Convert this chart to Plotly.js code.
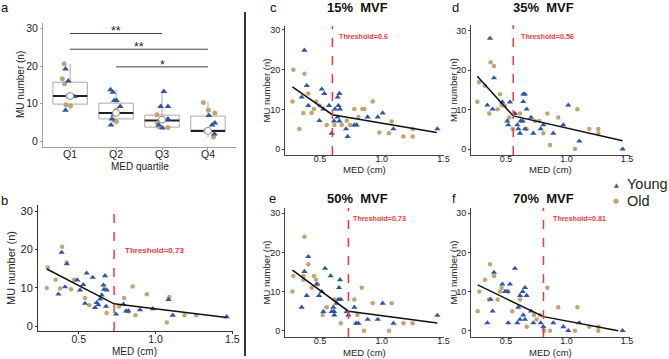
<!DOCTYPE html>
<html><head><meta charset="utf-8">
<script src="https://cdn.plot.ly/plotly-3.0.1.min.js"></script>
<style>html,body{margin:0;padding:0;background:#fff}#chart{width:669px;height:359px}</style>
</head><body><div id="chart"></div>
<script>
// ---------- DATA ----------
// Panel a: MU number by MED quartile (precomputed box stats)
const quartiles = ['Q1','Q2','Q3','Q4'];
const boxLower  = [8.3, 4.3, 3.2, 1.06];
const boxQ1     = [9.85, 5.9, 3.7, 2.66];
const boxMedian = [12.0, 7.45, 5.5, 2.66];
const boxQ3     = [15.7, 10.1, 6.9, 6.65];
const boxUpper  = [20.6, 13.7, 13.2, 10.6];
const boxMean   = [12.0, 7.5, 5.7, 2.7];
// jittered points (quartile index, jitter offset, MU number)
const aYoungQ   = [0,0,0,0, 1,1,1,1,1,1,1,1, 2,2,2,2,2,2,2, 3,3,3,3];
const aYoungJit = [-0.10,-0.04,0.09,-0.10, -0.12,-0.07,-0.04,0.01,0.09,-0.05,-0.09,-0.11, 0.04,-0.03,0.13,-0.03,0.13,-0.07,0.01, 0.02,0.15,0.09,0.14];
const aYoungMU  = [19.2,16.0,11.9,8.2, 13.7,13.0,10.8,10.8,9.2,7.0,5.9,4.3, 13.2,9.2,9.2,5.9,5.9,4.3,3.5, 6.8,4.8,4.3,1.9];
const aOldQ     = [0,0,0,0,0,0, 1,1,1, 2,2,2,2, 3,3,3,3,3];
const aOldJit   = [-0.13,-0.17,-0.12,-0.05,-0.09,0.01, 0.01,-0.04,0.01, -0.11,-0.10,0.13,-0.07, -0.10,0.01,0.15,-0.05,0.12];
const aOldMU    = [20.6,16.6,15.3,12.0,9.7,9.4, 8.3,5.5,5.2, 7.0,4.8,3.6,3.9, 10.3,8.3,7.5,2.75,1.06];
// significance brackets: [from, to, height, label]
const sigFrom  = [0, 0, 1];
const sigTo    = [2, 3, 3];
const sigY     = [28.7, 24.5, 19.8];
const sigLabel = ['**', '**', '*'];

// Panel b (all forces)
const bYoungX = [0.389,0.422,0.368,0.411,0.491,0.509,0.530,0.541,0.552,0.591,0.606,0.617,0.628,0.639,0.650,0.661,0.671,0.665,0.682,0.678,0.743,0.791,0.808,0.823,0.899,0.982,1.084,1.112,1.463];
const bYoungY = [19.2,16.2,8.3,10.2,12.0,9.4,10.8,5.9,13.8,12.7,4.8,6.1,5.5,7.0,8.1,10.7,13.1,9.6,9.4,5.1,3.1,5.7,3.9,3.9,4.2,4.5,6.9,2.8,2.4];
const bOldX = [0.292,0.298,0.350,0.379,0.392,0.422,0.450,0.470,0.541,0.569,0.682,0.762,0.795,0.823,0.851,0.869,0.943,1.090,1.073,1.188,1.264];
const bOldY = [9.9,15.3,12.1,9.8,20.7,16.6,9.6,12.1,7.3,5.4,3.4,5.1,7.3,3.8,10.3,2.8,8.3,7.6,0.9,2.8,2.8];
const bFitX = [0.292, 0.73, 1.463];
const bFitY = [14.9, 5.8, 2.2];
const bThreshold = 0.73;

// Panel c (15% MVF)
const cYoungX = [0.373,0.351,0.392,0.405,0.495,0.514,0.535,0.527,0.573,0.595,0.614,0.622,0.641,0.643,0.657,0.649,0.662,0.657,0.711,0.724,0.778,0.797,0.886,0.968,1.008,1.095,1.451];
const cYoungY = [24.9,13.1,16.0,11.0,7.2,15.1,14.0,10.1,11.0,4.0,7.1,10.1,8.1,13.1,14.0,11.0,10.1,7.1,5.1,3.2,6.1,6.1,8.1,8.1,9.1,5.1,5.1];
const cOldX = [0.276,0.284,0.332,0.365,0.373,0.405,0.432,0.451,0.468,0.495,0.554,0.616,0.676,0.716,0.743,0.778,0.811,0.843,0.859,0.927,0.981,1.081,1.059,1.176,1.251,1.251];
const cOldY = [12.0,20.0,5.1,9.1,19.0,14.0,9.1,10.1,12.0,11.0,6.1,6.1,6.1,7.2,6.1,10.1,8.1,10.1,10.1,12.0,4.2,7.0,4.0,3.2,3.2,5.1];
const cFitX = [0.276, 0.6, 1.446];
const cFitY = [15.7, 8.7, 4.2];
const cThreshold = 0.6;

// Panel d (35% MVF)
const dYoungX = [0.368,0.346,0.390,0.401,0.470,0.511,0.519,0.533,0.574,0.594,0.602,0.616,0.621,0.638,0.643,0.657,0.643,0.657,0.671,0.707,0.726,0.787,0.809,0.891,0.974,1.015,1.106,1.464];
const dYoungY = [28.0,11.1,10.1,18.0,11.9,7.1,6.1,11.9,9.0,6.1,5.1,4.0,7.1,7.1,13.9,13.9,12.0,5.1,10.1,8.0,4.0,5.1,6.1,4.0,6.1,11.1,2.0,0.0];
const dOldX = [0.263,0.277,0.326,0.362,0.373,0.401,0.431,0.450,0.464,0.492,0.528,0.555,0.616,0.671,0.740,0.775,0.809,0.842,0.864,0.932,1.070,1.090,1.189,1.263,1.263];
const dOldY = [12.0,16.9,16.0,9.0,22.0,21.0,10.1,13.9,11.1,10.9,8.0,5.1,9.0,5.1,7.1,7.1,4.0,9.0,1.0,8.0,0.0,10.1,5.1,5.1,4.0];
const dFitX = [0.263, 0.56, 1.464];
const dFitY = [18.4, 8.4, 2.1];
const dThreshold = 0.56;

// Panel e (50% MVF)
const eYoungX = [0.351,0.373,0.405,0.392,0.473,0.492,0.514,0.527,0.541,0.586,0.595,0.608,0.614,0.616,0.635,0.649,0.654,0.662,0.668,0.716,0.730,0.778,0.792,0.811,0.886,0.968,1.008,1.095,1.451];
const eYoungY = [6.0,15.1,18.9,9.0,11.9,9.0,10.0,4.9,15.9,14.0,4.9,6.0,4.9,4.0,7.0,8.0,11.0,13.0,8.0,4.9,4.0,6.0,1.9,1.9,2.9,2.9,7.0,1.9,3.9];
const eOldX = [0.276,0.284,0.365,0.373,0.365,0.405,0.432,0.451,0.468,0.481,0.522,0.554,0.616,0.668,0.778,0.803,0.838,0.857,0.927,1.059,1.081,1.176,1.251];
const eOldY = [10.0,14.0,14.0,24.0,13.0,17.0,11.0,14.0,13.0,11.9,4.0,6.0,8.0,1.9,8.0,4.0,11.0,0.0,7.0,0.0,7.0,1.9,1.9];
const eFitX = [0.276, 0.73, 1.451];
const eFitY = [15.5, 5.0, 2.0];
const eThreshold = 0.73;

// Panel f (70% MVF)
const fYoungX = [0.346,0.373,0.390,0.401,0.470,0.492,0.511,0.519,0.533,0.574,0.594,0.602,0.616,0.616,0.638,0.643,0.657,0.657,0.671,0.707,0.726,0.787,0.809,0.891,0.974,1.015,1.106,1.464];
const fYoungY = [2.0,8.0,5.0,14.9,11.9,10.0,10.0,2.0,11.9,15.9,2.0,6.0,2.9,9.0,10.0,4.0,11.0,2.9,9.0,5.0,2.0,2.0,1.0,2.0,1.0,0.0,2.0,0.0];
const fOldX = [0.266,0.280,0.326,0.360,0.368,0.401,0.431,0.450,0.464,0.519,0.552,0.616,0.671,0.731,0.753,0.781,0.814,0.842,0.864,0.932,1.070,1.090,1.189,1.263,1.263];
const fOldY = [5.0,10.0,13.0,8.0,17.0,14.0,8.0,10.0,11.0,10.0,5.0,8.0,1.0,4.0,2.9,4.0,0.0,11.0,0.0,6.0,0.0,6.0,1.0,0.0,1.0];
const fFitX = [0.266, 0.81, 1.428];
const fFitY = [11.7, 3.6, 0.0];
const fThreshold = 0.81;

const panelTitles = ['15%\u00a0 MVF','35%\u00a0 MVF','50%\u00a0 MVF','70%\u00a0 MVF'];
const groupNames = ['Young','Old'];

// ---------- STYLE / LAYOUT ----------
const W = 669, H = 359;
const FONT = 'Liberation Sans, Arial, sans-serif';
const BLUE = '#2C57A6', TAN = '#C4A373', RED = '#F03A3A';
const px = v => v / W, py = v => 1 - v / H;
const dX = (l, r) => [l / W, r / W];
const dY = (t, b) => [1 - b / H, 1 - t / H];

const traces = [];
// ----- panel a -----
traces.push({type:'box', x:[0,1,2,3], q1:boxQ1, median:boxMedian, q3:boxQ3,
  lowerfence:boxLower, upperfence:boxUpper, width:0.75, whiskerwidth:0,
  fillcolor:'#ffffff', line:{color:'#a8a8a8', width:1}, boxpoints:false,
  xaxis:'x', yaxis:'y', showlegend:false, hoverinfo:'skip'});
const medX = [], medY = [];
boxMedian.forEach((m, i) => { medX.push(i - 0.375, i + 0.375, null); medY.push(m, m, null); });
traces.push({type:'scatter', mode:'lines', x:medX, y:medY, line:{color:'#222', width:2},
  xaxis:'x', yaxis:'y', showlegend:false, hoverinfo:'skip'});
traces.push({type:'scatter', mode:'markers', x:aOldQ.map((q,i)=>q+aOldJit[i]), y:aOldMU,
  marker:{symbol:'circle', size:5, color:TAN}, xaxis:'x', yaxis:'y', showlegend:false});
traces.push({type:'scatter', mode:'markers', x:aYoungQ.map((q,i)=>q+aYoungJit[i]), y:aYoungMU,
  marker:{symbol:'triangle-up', size:6, color:BLUE}, xaxis:'x', yaxis:'y', showlegend:false});
traces.push({type:'scatter', mode:'markers', x:[0,1,2,3], y:boxMean,
  marker:{symbol:'circle', size:7, color:'#ffffff', line:{color:'#8a8a8a', width:1}},
  xaxis:'x', yaxis:'y', showlegend:false});
sigFrom.forEach((f, i) => {
  traces.push({type:'scatter', mode:'lines', x:[f, sigTo[i]], y:[sigY[i], sigY[i]],
    line:{color:'#444', width:1}, xaxis:'x', yaxis:'y', showlegend:false, hoverinfo:'skip'});
});

// ----- scatter panels -----
const panels = [
  {ax:'2', yx:bYoungX, yy:bYoungY, ox:bOldX, oy:bOldY, fx:bFitX, fy:bFitY, th:bThreshold},
  {ax:'3', yx:cYoungX, yy:cYoungY, ox:cOldX, oy:cOldY, fx:cFitX, fy:cFitY, th:cThreshold},
  {ax:'4', yx:dYoungX, yy:dYoungY, ox:dOldX, oy:dOldY, fx:dFitX, fy:dFitY, th:dThreshold},
  {ax:'5', yx:eYoungX, yy:eYoungY, ox:eOldX, oy:eOldY, fx:eFitX, fy:eFitY, th:eThreshold},
  {ax:'6', yx:fYoungX, yy:fYoungY, ox:fOldX, oy:fOldY, fx:fFitX, fy:fFitY, th:fThreshold},
];
panels.forEach(p => {
  traces.push({type:'scatter', mode:'markers', x:p.ox, y:p.oy, name:groupNames[1],
    marker:{symbol:'circle', size:4.5, color:TAN}, xaxis:'x'+p.ax, yaxis:'y'+p.ax, showlegend:false});
  traces.push({type:'scatter', mode:'markers', x:p.yx, y:p.yy, name:groupNames[0],
    marker:{symbol:'triangle-up', size:5.5, color:BLUE}, xaxis:'x'+p.ax, yaxis:'y'+p.ax, showlegend:false});
  traces.push({type:'scatter', mode:'lines', x:p.fx, y:p.fy, line:{color:'#111', width:1.5},
    xaxis:'x'+p.ax, yaxis:'y'+p.ax, showlegend:false, hoverinfo:'skip'});
});

// ----- axes -----
function axisBase(color, size, standoff, showTicks){
  return {showgrid:false, zeroline:false, showline:true, linecolor:color, linewidth:1,
    ticks: showTicks === false ? '' : 'outside', ticklen:2, tickcolor:color, tickwidth:1, mirror:false,
    ticklabelstandoff:standoff,
    tickfont:{family:FONT, size:size, color:'#222'}, fixedrange:true};
}
const layout = {
  width:W, height:H, margin:{l:0,r:0,t:0,b:0}, paper_bgcolor:'#fff', plot_bgcolor:'rgba(0,0,0,0)',
  showlegend:false, font:{family:FONT, color:'#222'},
  xaxis: Object.assign(axisBase('#a0a0a0', 10.5, -5), {domain:dX(43,236), range:[-0.59,3.61],
    tickvals:[0,1,2,3], ticktext:quartiles, anchor:'y'}),
  yaxis: Object.assign(axisBase('#a0a0a0', 10.5, 0), {domain:dY(23,147), range:[-1.6,31.5],
    tickvals:[0,10,20,30], anchor:'x'}),
  xaxis2: Object.assign(axisBase('#333', 10.5, -4), {domain:dX(38,233), range:[0.235,1.504],
    tickvals:[0.5,1.0,1.5], tickformat:'.1f', anchor:'y2'}),
  yaxis2: Object.assign(axisBase('#333', 11, 0), {domain:dY(205,331), range:[-1.3,31.6],
    tickvals:[0,10,20,30], anchor:'x2'}),
  xaxis3: Object.assign(axisBase('#444', 9, -5, false), {domain:dX(285,444), range:[0.216,1.505],
    tickvals:[0.5,1.0,1.5], tickformat:'.1f', anchor:'y3'}),
  yaxis3: Object.assign(axisBase('#444', 9, 0), {domain:dY(26,155), range:[-1.44,31.0],
    tickvals:[0,10,20,30], anchor:'x3'}),
  xaxis4: Object.assign(axisBase('#444', 9, -5, false), {domain:dX(471,630), range:[0.211,1.525],
    tickvals:[0.5,1.0,1.5], tickformat:'.1f', anchor:'y4'}),
  yaxis4: Object.assign(axisBase('#444', 9, 0), {domain:dY(25,155), range:[-1.5,31.4],
    tickvals:[0,10,20,30], anchor:'x4'}),
  xaxis5: Object.assign(axisBase('#444', 9, -5, false), {domain:dX(285,444), range:[0.216,1.505],
    tickvals:[0.5,1.0,1.5], tickformat:'.1f', anchor:'y5'}),
  yaxis5: Object.assign(axisBase('#444', 9, 0), {domain:dY(208,337), range:[-1.6,31.35],
    tickvals:[0,10,20,30], anchor:'x5'}),
  xaxis6: Object.assign(axisBase('#444', 9, -5, false), {domain:dX(471,630), range:[0.211,1.525],
    tickvals:[0.5,1.0,1.5], tickformat:'.1f', anchor:'y6'}),
  yaxis6: Object.assign(axisBase('#444', 9, 0), {domain:dY(208,337), range:[-1.6,31.35],
    tickvals:[0,10,20,30], anchor:'x6'}),
  shapes: [], annotations: []
};

// threshold dashed lines and labels
const thFont = [8, 7.2, 7.2, 7.2, 7.2];
const thLabelPos = [[0.788,19.8],[0.64,28.4],[0.61,28.4],[0.755,28.6],[0.87,28.6]];
panels.forEach((p, i) => {
  layout.shapes.push({type:'line', xref:'x'+p.ax, yref:'y'+p.ax+' domain', x0:p.th, x1:p.th, y0:0, y1:1,
    line:{color:RED, width:1.5, dash:'dash'}});
  layout.annotations.push({xref:'x'+p.ax, yref:'y'+p.ax, x:thLabelPos[i][0], y:thLabelPos[i][1],
    xanchor:'left', yanchor:'middle', showarrow:false, text:'<b>Threshold='+p.th+'</b>',
    font:{family:FONT, size:thFont[i], color:RED}});
});
// divider
layout.shapes.push({type:'line', xref:'paper', yref:'paper', x0:px(245), x1:px(245), y0:py(12), y1:py(356),
  line:{color:'#333', width:2}});

// significance stars
sigFrom.forEach((f, i) => {
  layout.annotations.push({xref:'x', yref:'y', x:(f + sigTo[i]) / 2, y:sigY[i], yanchor:'bottom', yshift:-7,
    showarrow:false, text:sigLabel[i], font:{family:FONT, size:12.5, color:'#222'}});
});

function ann(text, x, y, opts){
  layout.annotations.push(Object.assign({xref:'paper', yref:'paper', x:px(x), y:py(y),
    showarrow:false, text:text, xanchor:'center', yanchor:'middle',
    font:{family:FONT, size:10, color:'#222'}}, opts || {}));
}
// axis titles
ann('MU number (n)', 21, 85, {textangle:-90, font:{family:FONT, size:10, color:'#222'}});
ann('MED quartile', 140, 166, {font:{family:FONT, size:10, color:'#222'}});
ann('MU number (n)', 11, 268, {textangle:-90, font:{family:FONT, size:11, color:'#222'}});
ann('MED (cm)', 134, 351, {font:{family:FONT, size:10, color:'#222'}});
[[266,90.5,364.5,169.5],[453,90,550.5,169.5],[266,272.5,364.5,352],[453,272.5,550.5,352]].forEach(a => {
  ann('MU number (n)', a[0], a[1], {textangle:-90, font:{family:FONT, size:9.5, color:'#222'}});
  ann('MED (cm)', a[2], a[3], {font:{family:FONT, size:9.5, color:'#222'}});
});
// panel titles
[[358,8],[543,8],[358,198],[543,199]].forEach((t, i) => {
  ann('<b>' + panelTitles[i] + '</b>', t[0], t[1], {font:{family:FONT, size:13, color:'#111'}});
});
// panel letters
[['a',5,7],['b',4,200],['c',273,8],['d',455,7],['e',272,198],['f',454,199]].forEach(l => {
  ann(l[0], l[1], l[2], {font:{family:FONT, size:13, color:'#111'}});
});
// legend
ann('<span style="color:' + BLUE + '">\u25B2</span>', 616, 184, {font:{family:'DejaVu Sans', size:6, color:BLUE}});
ann(groupNames[0], 625, 184, {xanchor:'left', font:{family:FONT, size:14.5, color:'#222'}});
ann('<span style="color:' + TAN + '">\u25CF</span>', 616, 201, {font:{family:'DejaVu Sans', size:7, color:TAN}});
ann(groupNames[1], 625, 201, {xanchor:'left', font:{family:FONT, size:14.5, color:'#222'}});

Plotly.newPlot('chart', traces, layout, {staticPlot:true, displayModeBar:false});
</script></body></html>
